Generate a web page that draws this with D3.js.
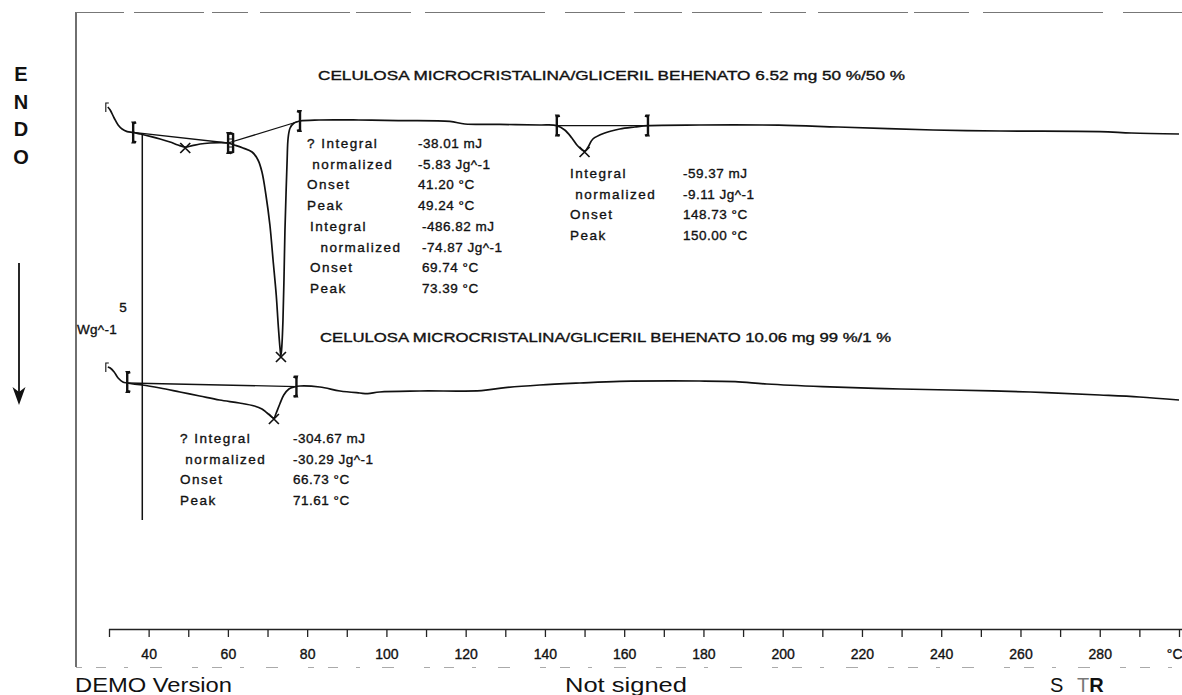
<!DOCTYPE html>
<html>
<head>
<meta charset="utf-8">
<script src="https://cdn.jsdelivr.net/npm/d3@7"></script>
<style>
  html, body { margin: 0; padding: 0; background: #fff; }
  svg { display: block; }
  text { font-family: "Liberation Sans", Arial, sans-serif; fill: #111; }
  .heavy { stroke: #111; stroke-width: 0.35; }
</style>
</head>
<body>
<svg id="chart" width="1182" height="695"></svg>
<script>
// Temperature axis (°C)
const tickTemps  = [30, 40, 50, 60, 70, 80, 90, 100, 110, 120, 130, 140, 150, 160, 170, 180, 190, 200,
                    210, 220, 230, 240, 250, 260, 270, 280, 290, 300];
const tickLabels = ["", "40", "", "60", "", "80", "", "100", "", "120", "", "140", "", "160", "", "180", "", "200",
                    "", "220", "", "240", "", "260", "", "280", "", "°C"];

// Curve 1: celulosa microcristalina / gliceril behenato 50 %/50 % (6.52 mg)
const topTemp = [29.7, 30.3, 31.3, 32.3, 33.3, 34.6, 36.1, 37.9, 40.4, 42.9, 45.4, 47.4, 49.24, 51.0, 53.0,
                 55.5, 58.0, 60.05, 61.6, 63.8, 66.1, 67.6, 68.6, 69.6, 70.6, 71.4, 72.2, 72.7, 73.15, 73.39,
                 73.65, 73.9, 74.15, 74.4, 74.7, 74.95, 75.2, 75.7, 76.7, 78.2, 83, 93, 103, 116, 119.8, 128.6,
                 138.7, 143.0, 145.0, 146.8, 148.3, 150.0, 150.9, 152.1, 155.1, 158.9, 162.7, 166.0, 179, 199,
                 214, 238, 255, 280, 288, 300];
const topFlow = [1.65, 1.5, 1.1, 0.75, 0.55, 0.42, 0.38, 0.3, 0.18, 0.05, -0.1, -0.25, -0.35, -0.28, -0.2,
                 -0.15, -0.13, -0.15, -0.25, -0.4, -0.6, -1.0, -1.6, -2.75, -4.25, -6.0, -7.75, -9.25, -10.4, -10.8,
                 -10.2, -9.0, -7.0, -4.5, -2.5, -1.0, 0.1, 0.6, 0.85, 0.95, 1.0, 1.0, 0.97, 0.93, 0.8, 0.78,
                 0.75, 0.72, 0.5, 0.1, -0.3, -0.55, -0.35, 0.05, 0.35, 0.55, 0.65, 0.72, 0.75, 0.74,
                 0.65, 0.5, 0.45, 0.42, 0.35, 0.3];

// Curve 2: celulosa microcristalina / gliceril behenato 99 %/1 % (10.06 mg)
const bottomTemp = [29.7, 30.3, 31.3, 32.3, 33.5, 34.6, 36.1, 38.4, 42.9, 47.9, 52.9, 57.9, 62.9, 66.7, 68.6,
                    69.9, 71.61, 72.1, 73.1, 74.1, 75.4, 76.7, 78.2, 83.2, 88.3, 93.3, 95.3, 98.3, 108.4, 124,
                    130, 138.7, 148.8, 158.9, 179, 188, 196, 210, 225.8, 242.3, 262.5, 280, 290, 300];
const bottomFlow = [-11.35, -11.4, -11.6, -11.9, -12.1, -12.15, -12.2, -12.25, -12.4, -12.6, -12.8, -13.0, -13.15, -13.3, -13.45,
                    -13.65, -13.9, -13.7, -13.2, -12.75, -12.45, -12.35, -12.3, -12.35, -12.55, -12.65, -12.68, -12.6, -12.55, -12.53,
                    -12.38, -12.25, -12.15, -12.07, -12.05, -12.08, -12.2, -12.33, -12.43, -12.5, -12.6, -12.75, -12.85, -13.0];

// Integration limits [start, end] in °C, with the baseline heat flow at each limit
const topLimits      = [[36.1, 60.05], [60.05, 78.2], [143.0, 166.0]];
const topBaseFlow    = [[0.38, -0.15], [-0.15, 0.95], [0.72, 0.72]];
const bottomLimits   = [[34.6, 77.3]];
const bottomBaseFlow = [[-12.15, -12.33]];

// Peak temperatures (°C)
const topPeaks    = [49.24, 73.39, 150.00];
const bottomPeaks = [71.61];

// Evaluation tables
const evalLabels = [
  ["? Integral", " normalized", "Onset", "Peak"],
  ["Integral", "  normalized", "Onset", "Peak"],
  ["Integral", " normalized", "Onset", "Peak"],
  ["? Integral", " normalized", "Onset", "Peak"]
];
const evalValues = [
  ["-38.01 mJ", "-5.83 Jg^-1", "41.20 °C", "49.24 °C"],
  ["-486.82 mJ", "-74.87 Jg^-1", "69.74 °C", "73.39 °C"],
  ["-59.37 mJ", "-9.11 Jg^-1", "148.73 °C", "150.00 °C"],
  ["-304.67 mJ", "-30.29 Jg^-1", "66.73 °C", "71.61 °C"]
];
// table anchors: [label x, value x, first baseline y]
const evalPos = [[307, 418, 148], [310, 422, 231], [570, 683, 178], [180, 293, 443]];

const curveTitles = [
  "CELULOSA MICROCRISTALINA/GLICERIL BEHENATO 6.52 mg 50 %/50 %",
  "CELULOSA MICROCRISTALINA/GLICERIL BEHENATO 10.06 mg 99 %/1 %"
];

const svg = d3.select("#chart");

const x = d3.scaleLinear().domain([30, 300]).range([109, 1179]);
const y = d3.scaleLinear().domain([2, -26.5]).range([100, 670]);

// frame
const frame = svg.append("g").attr("fill", "none");
frame.append("line").attr("x1", 76).attr("x2", 76).attr("y1", 12).attr("y2", 667)
  .attr("stroke", "#333").attr("stroke-width", 1.4);
frame.append("line").attr("x1", 76).attr("x2", 1182).attr("y1", 12.5).attr("y2", 12.5)
  .attr("stroke", "#777").attr("stroke-width", 1.2)
  .attr("stroke-dasharray", "48,10,70,8,36,12,90,6,55,14,120,20,60,9");
frame.append("line").attr("x1", 76).attr("x2", 1182).attr("y1", 667.5).attr("y2", 667.5)
  .attr("stroke", "#aaa").attr("stroke-width", 1)
  .attr("stroke-dasharray", "6,14,10,18,4,22,12,30");

// temperature axis
const axis = d3.axisBottom(x)
  .tickValues(tickTemps)
  .tickFormat((d, i) => tickLabels[i])
  .tickSize(8)
  .tickPadding(12);
const ax = svg.append("g").attr("transform", "translate(0,629)").call(axis);
ax.select(".domain").attr("stroke", "#222").attr("stroke-width", 1.3).attr("d", "M109,0.5H1182");
ax.selectAll(".tick line").attr("stroke", "#222").attr("stroke-width", 1.3);
ax.selectAll(".tick text").attr("font-size", 14).attr("fill", "#111").attr("class", "heavy")
  .attr("font-family", "'Liberation Sans', Arial, sans-serif");
ax.selectAll(".tick text").filter(d => d === 300).attr("text-anchor", "end").attr("dx", 3);

// ordinate marker line
svg.append("line")
  .attr("x1", x(38.4)).attr("x2", x(38.4))
  .attr("y1", y(0.35)).attr("y2", y(-19))
  .attr("stroke", "#111").attr("stroke-width", 1.5);

const line = d3.line()
  .x(d => x(d[0])).y(d => y(d[1]))
  .curve(d3.curveCatmullRom.alpha(0.5));

function drawCurve(temps, flows) {
  const pts = temps.map((t, i) => [t, flows[i]]);
  svg.append("path").datum(pts)
    .attr("d", line)
    .attr("fill", "none").attr("stroke", "#111").attr("stroke-width", 1.7);
  return pts;
}
const topPts = drawCurve(topTemp, topFlow);
const bottomPts = drawCurve(bottomTemp, bottomFlow);

// baselines
function drawBaselines(limits, flows) {
  limits.forEach((lim, i) => {
    svg.append("line")
      .attr("x1", x(lim[0])).attr("y1", y(flows[i][0]))
      .attr("x2", x(lim[1])).attr("y2", y(flows[i][1]))
      .attr("stroke", "#111").attr("stroke-width", 1.3);
  });
}
drawBaselines(topLimits, topBaseFlow);
drawBaselines(bottomLimits, bottomBaseFlow);

// limit brackets
function bracket(t, v, kind) {
  const cx = x(t), cy = y(v);
  const g = svg.append("g").attr("fill", "none").attr("stroke", "#111");
  const h = 10;
  if (kind === "open" || kind === "box") {
    g.append("path").attr("stroke-width", 2.4)
      .attr("d", `M${cx + 3},${cy - h} L${cx},${cy - h + 1} L${cx},${cy + h - 1} L${cx + 3},${cy + h}`);
  }
  if (kind === "close" || kind === "box") {
    const ox = kind === "box" ? cx + 5 : cx;
    g.append("path").attr("stroke-width", 2.4)
      .attr("d", `M${ox - 3},${cy - h} L${ox},${cy - h + 1} L${ox},${cy + h - 1} L${ox - 3},${cy + h}`);
  }
  if (kind === "box") {
    g.append("path").attr("stroke-width", 1.2)
      .attr("d", `M${cx},${cy - 4} H${cx + 5} M${cx},${cy + 4} H${cx + 5}`);
  }
  // small end arrows
  g.append("path").attr("fill", "#111").attr("stroke", "none")
    .attr("d", `M${cx - 2},${cy - h - 1} L${cx + 2},${cy - h - 1} L${cx},${cy - h + 4} Z
                M${cx - 2},${cy + h + 1} L${cx + 2},${cy + h + 1} L${cx},${cy + h - 4} Z`);
}
bracket(topLimits[0][0], topBaseFlow[0][0], "open");
bracket(topLimits[1][0], topBaseFlow[1][0], "box");
bracket(topLimits[1][1], topBaseFlow[1][1], "close");
bracket(topLimits[2][0], topBaseFlow[2][0], "open");
bracket(topLimits[2][1], topBaseFlow[2][1], "close");
bracket(bottomLimits[0][0], bottomBaseFlow[0][0] + 0.05, "open");
bracket(bottomLimits[0][1], bottomBaseFlow[0][1], "close");

// curve start marks
function startMark(pts) {
  const cx = x(pts[0][0]) - 2, cy = y(pts[0][1]);
  svg.append("path").attr("fill", "none").attr("stroke", "#111").attr("stroke-width", 1.1)
    .attr("d", `M${cx + 3},${cy - 4} L${cx},${cy - 4} L${cx},${cy + 5}`);
}
startMark(topPts);
startMark(bottomPts);

// peak crosses
function cross(t, temps, flows) {
  const v = flows[temps.indexOf(t)];
  const cx = x(t), cy = y(v) + 1, s = 5;
  svg.append("path").attr("fill", "none").attr("stroke", "#111").attr("stroke-width", 1.7)
    .attr("d", `M${cx - s},${cy - s} L${cx + s},${cy + s} M${cx - s},${cy + s} L${cx + s},${cy - s}`);
}
topPeaks.forEach(t => cross(t, topTemp, topFlow));
bottomPeaks.forEach(t => cross(t, bottomTemp, bottomFlow));

// curve titles
svg.append("text").attr("x", 318).attr("y", 80).attr("font-size", 12.5).attr("class", "heavy")
  .attr("textLength", 587).attr("lengthAdjust", "spacingAndGlyphs").text(curveTitles[0]);
svg.append("text").attr("x", 320).attr("y", 342).attr("font-size", 12.5).attr("class", "heavy")
  .attr("textLength", 571).attr("lengthAdjust", "spacingAndGlyphs").text(curveTitles[1]);

// evaluation tables
evalLabels.forEach((labels, b) => {
  const [lx, vx, y0] = evalPos[b];
  labels.forEach((lab, r) => {
    const yy = y0 + r * 20.7;
    svg.append("text").attr("x", lx).attr("y", yy).attr("font-size", 13.5).attr("class", "heavy")
      .attr("letter-spacing", 1.5).attr("xml:space", "preserve").style("white-space", "pre")
      .text(lab);
    svg.append("text").attr("x", vx).attr("y", yy).attr("font-size", 13.5).attr("class", "heavy")
      .attr("letter-spacing", 0.5).text(evalValues[b][r]);
  });
});

// ENDO direction label and arrow
["E", "N", "D", "O"].forEach((ch, i) => {
  svg.append("text").attr("x", 21).attr("y", 81 + i * 27.5).attr("text-anchor", "middle")
    .attr("font-size", 20).attr("font-weight", "bold").text(ch);
});
svg.append("line").attr("x1", 19).attr("x2", 19).attr("y1", 263).attr("y2", 396)
  .attr("stroke", "#111").attr("stroke-width", 1.8);
svg.append("path").attr("fill", "#111")
  .attr("d", "M12.5,387 L19,405 L25.5,387 L19,392 Z");

// ordinate scale label
svg.append("text").attr("x", 123).attr("y", 312).attr("text-anchor", "middle").attr("class", "heavy")
  .attr("font-size", 13.5).text("5");
svg.append("text").attr("x", 77).attr("y", 334).attr("font-size", 13.5).attr("class", "heavy")
  .attr("letter-spacing", 0.3).text("Wg^-1");

// footer
svg.append("text").attr("x", 75).attr("y", 692).attr("font-size", 20)
  .attr("textLength", 157).attr("lengthAdjust", "spacingAndGlyphs").text("DEMO Version");
svg.append("text").attr("x", 565).attr("y", 692).attr("font-size", 20)
  .attr("textLength", 122).attr("lengthAdjust", "spacingAndGlyphs").text("Not signed");
svg.append("text").attr("x", 1050).attr("y", 692).attr("font-size", 20).text("S");
const tr = svg.append("text").attr("x", 1077).attr("y", 692).attr("font-size", 20);
tr.append("tspan").attr("fill", "#777").text("T");
tr.append("tspan").attr("font-weight", "bold").text("R");
</script>
</body>
</html>
